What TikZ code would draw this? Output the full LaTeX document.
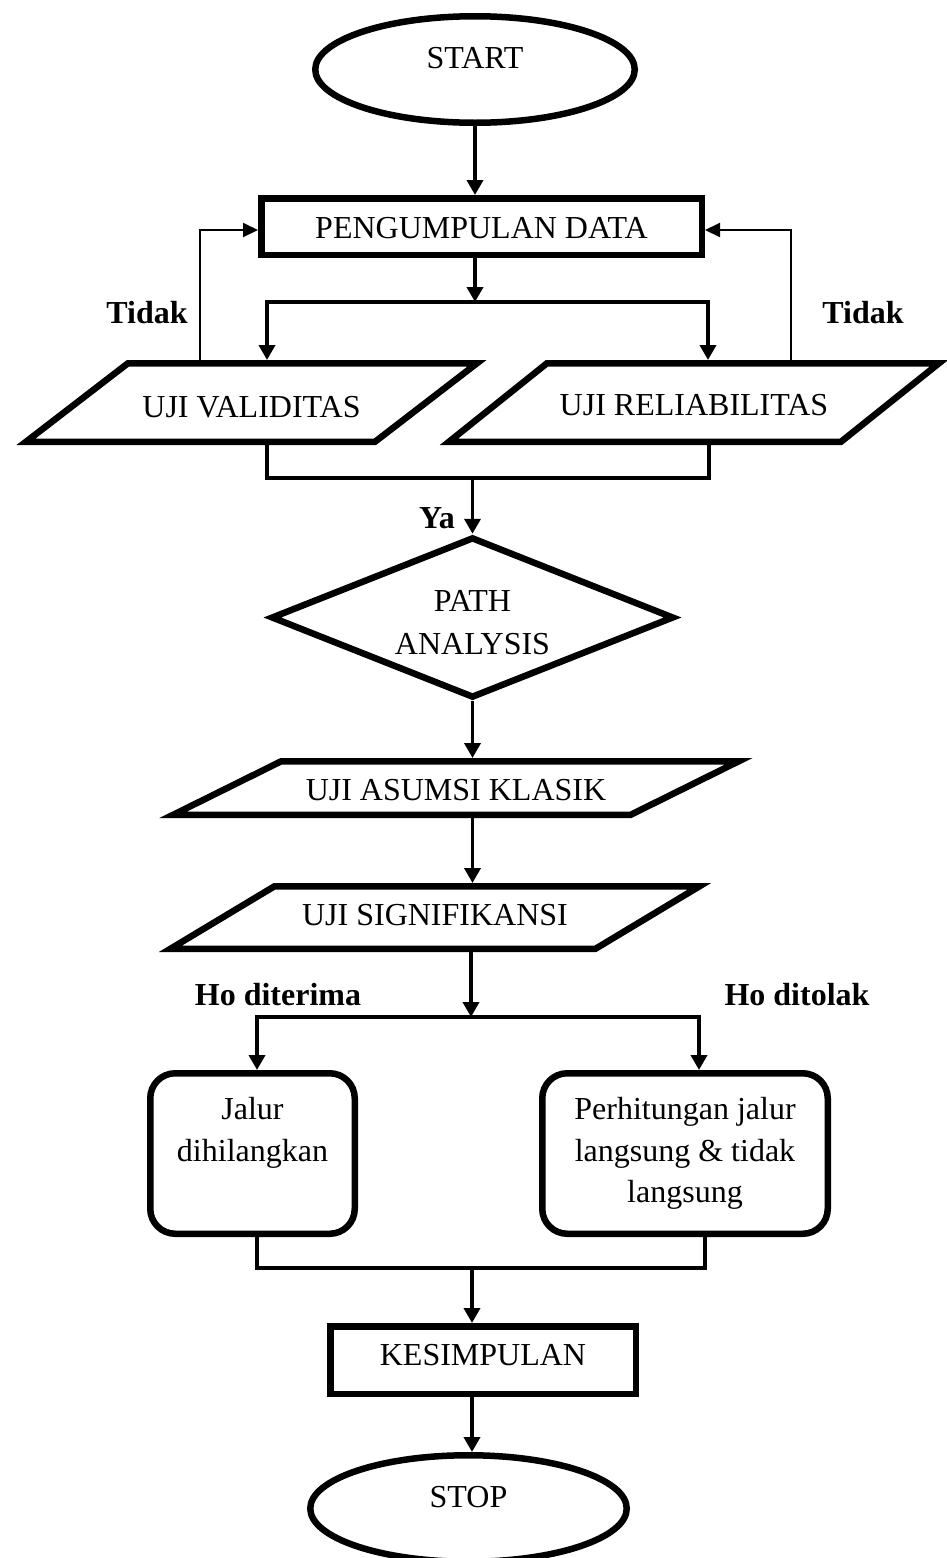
\documentclass[tikz,border=0pt]{standalone}
\usepackage{fontspec}
\setmainfont{Liberation Serif}
\usetikzlibrary{arrows.meta,shapes.geometric}
\newcommand\drawPgram[2]{\draw[shp] ([xshift=-#2,yshift=3.25pt]#1.south west) -- ([xshift=#2,yshift=-3.25pt]#1.north west) -- ([xshift=#2,yshift=-3.25pt]#1.north east) -- ([xshift=-#2,yshift=3.25pt]#1.south east) -- cycle;}
\begin{document}
\begin{tikzpicture}[x=1pt,y=-1pt,
  every node/.style={font=\fontsize{32}{41.5}\selectfont, inner sep=0pt},
  shp/.style={draw, line width=6.5pt, line join=miter},
  term/.style={shp, ellipse, text height=21.5pt, text depth=23.3pt},
  box/.style={shp, rectangle},
  pg/.style={rectangle, outer xsep=0pt, outer ysep=3.25pt},
  dec/.style={shp, diamond, aspect=2.5, align=center},
  rbox/.style={shp, rectangle, rounded corners=25pt, align=center},
  conn/.style={line width=3.7pt},
  arr/.style={conn, -{Triangle[length=15pt,width=16pt]}},
  arrtwo/.style={conn, {Triangle[length=15pt,width=16pt]}-{Triangle[length=15pt,width=16pt]}},
  fb/.style={line width=2pt, -{Triangle[length=15pt,width=14pt]}},
  lbl/.style={font=\fontsize{32}{41.5}\selectfont\bfseries, text height=21.5pt, text depth=0pt}
]
\useasboundingbox (0,0) rectangle (947,1558);

% shapes
\node[term, minimum width=319.5pt, minimum height=106.5pt] (start) at (475,69.5) {START};
\node[box, minimum width=440.5pt, minimum height=56.5pt, text height=24pt, text depth=0pt] (data) at (481.5,226.5) {PENGUMPULAN DATA};
\node[pg, minimum width=349pt, minimum height=78.5pt, text height=30pt, text depth=0pt] (val) at (251.5,402.5) {UJI VALIDITAS};
\node[pg, minimum width=392pt, minimum height=78.5pt, text height=26pt, text depth=0pt] (rel) at (694,402.5) {UJI RELIABILITAS};
\drawPgram{val}{51pt}
\drawPgram{rel}{49pt}
\node[dec, minimum width=403pt, minimum height=161pt] (path) at (472.5,617.5) {\rule{0pt}{31pt}PATH\\[1.5pt]ANALYSIS};
\node[pg, minimum width=457.5pt, minimum height=53.5pt, text height=25pt, text depth=0pt] (asm) at (456,788) {UJI ASUMSI KLASIK};
\node[pg, minimum width=425pt, minimum height=62.5pt, text height=21.5pt, text depth=5pt] (sig) at (435,917.5) {UJI SIGNIFIKANSI};
\drawPgram{asm}{54pt}
\drawPgram{sig}{52pt}
\node[rbox, minimum width=204.5pt, minimum height=160.5pt] (acc) at (252.5,1153.5) {Jalur\\dihilangkan\\\phantom{g}};
\node[rbox, minimum width=285.5pt, minimum height=160.5pt] (rej) at (685,1153.5) {Perhitungan jalur\\langsung \& tidak\\langsung};
\node[box, minimum width=305.5pt, minimum height=67.5pt, text height=21.5pt, text depth=10pt] (kes) at (483,1360) {KESIMPULAN};
\node[term, minimum width=316.5pt, minimum height=106.5pt] (stop) at (468.5,1508.5) {STOP};

% connectors
\draw[arr] (start.south) -- (start.south |- data.north);
\coordinate (s1) at (475,302);
\coordinate (vl) at (267,302);
\coordinate (vr) at (708,302);
\draw[arr] (data.south -| s1) -- (s1);
\draw[arrtwo] (vl |- val.north) -- (vl) -- (vr) -- (vr |- rel.north);

\coordinate (fl) at (200,230);
\coordinate (fr) at (791,230);
\draw[fb] (fl |- val.north) -- (fl) -- (data.west |- fl);
\draw[fb] (fr |- rel.north) -- (fr) -- (data.east |- fr);

\coordinate (ml) at (267,478);
\coordinate (mr) at (709,478);
\draw[conn] (ml |- val.south) -- (ml) -- (mr) -- (mr |- rel.south);
\draw[arr] (path.north |- ml) -- (path.north);

\draw[arr] (path.south) -- (path.south |- asm.north);
\draw[arr] (asm.south -| path.south) -- (sig.north -| path.south);

\coordinate (hj) at (471,1017);
\coordinate (hl) at (257,1017);
\coordinate (hr) at (699,1017);
\draw[arr] (sig.south -| hj) -- (hj);
\draw[arrtwo] (hl |- acc.north) -- (hl) -- (hr) -- (hr |- rej.north);

\coordinate (bl) at (257,1268);
\coordinate (br) at (705,1268);
\coordinate (bm) at (472,1268);
\draw[conn] (bl |- acc.south) -- (bl) -- (br) -- (br |- rej.south);
\draw[arr] (bm) -- (bm |- kes.north);
\draw[arr] (kes.south -| bm) -- (stop.north -| bm);

% labels
\node[lbl] (tl) at (147,313) {Tidak};
\node[lbl] (tr) at (863,313) {Tidak};
\node[lbl] (ya) at (437,518) {Ya};
\node[lbl] (hoa) at (278,995) {Ho diterima};
\node[lbl] (hor) at (797,995) {Ho ditolak};
\end{tikzpicture}
\end{document}
